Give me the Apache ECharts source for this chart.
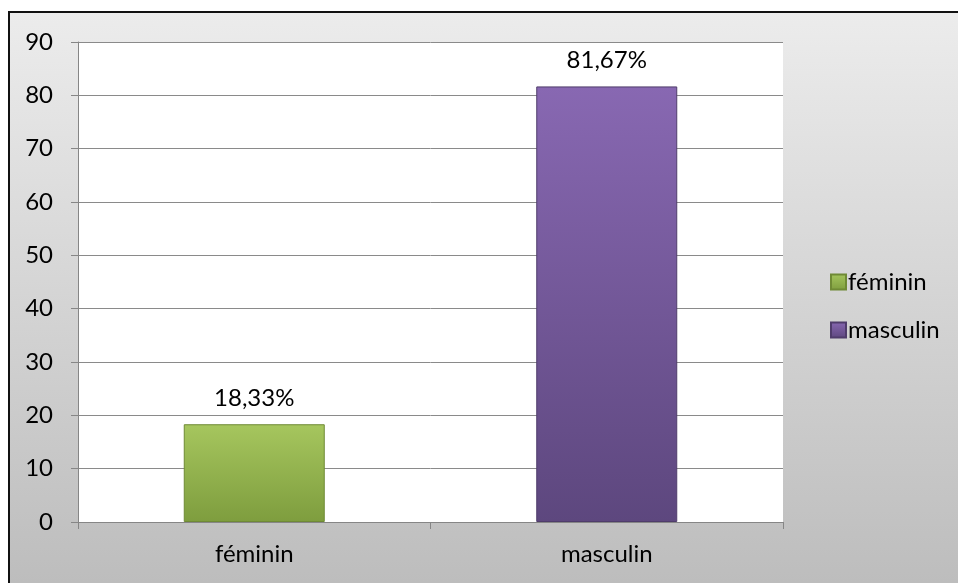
<!DOCTYPE html>
<html>
<head>
<meta charset="utf-8">
<script src="https://cdn.jsdelivr.net/npm/echarts@6/dist/echarts.min.js"></script>
<style>html,body{margin:0;padding:0;background:#fff;}#c{width:959px;height:583px;}</style>
</head>
<body>
<div id="c"></div>
<script>
const categories = ['féminin', 'masculin'];
const values = [18.33, 81.67];
const seriesNames = ['féminin', 'masculin'];
const yTicks = { min: 0, max: 90, interval: 10 };

const FONT = 'Lato';
const grad = (a, b) => new echarts.graphic.LinearGradient(0, 0, 0, 1, [
  { offset: 0, color: a }, { offset: 1, color: b }
]);
const fills = [grad('#a6c65e', '#7e9d3e'), grad('#8868b2', '#5d477e')];
const borders = ['#6f8a35', '#4f3c6b'];

const series = seriesNames.map((name, i) => ({
  name: name,
  type: 'bar',
  stack: 'all',
  barWidth: '40%',
  data: values.map((v, j) => (j === i ? v : '-')),
  itemStyle: { color: fills[i], borderColor: borders[i], borderWidth: 1 },
  label: {
    show: true,
    position: 'top',
    distance: 14,
    color: '#000',
    fontFamily: FONT,
    fontSize: 24,
    formatter: p => p.value.toFixed(2).replace('.', ',') + '%'
  }
}));

const chart = echarts.init(document.getElementById('c'), null, { renderer: 'canvas' });
chart.setOption({
  animation: false,
  graphic: [
    {
      type: 'rect', z: -10, silent: true,
      shape: { x: 9, y: 12, width: 949, height: 571 },
      style: { fill: new echarts.graphic.LinearGradient(0, 0, 0, 1, [
        { offset: 0, color: '#ececec' }, { offset: 1, color: '#bdbdbd' }]) }
    },
    {
      type: 'polyline', z: 100, silent: true,
      shape: { points: [[9, 583], [9, 12], [958, 12]] },
      style: { stroke: '#111', lineWidth: 2, fill: null }
    }
  ],
  grid: {
    left: 78, right: 176, top: 42, bottom: 61,
    show: true, backgroundColor: '#fff', borderWidth: 0
  },
  legend: {
    orient: 'vertical',
    left: 825, top: 265,
    itemWidth: 15, itemHeight: 15, itemGap: 24,
    icon: 'rect',
    textStyle: { fontFamily: FONT, fontSize: 24, color: '#000', lineHeight: 24, padding: [0, 0, 0, -3] },
    data: seriesNames
  },
  xAxis: {
    type: 'category',
    data: categories,
    axisLine: { lineStyle: { color: '#868686', width: 1 } },
    axisTick: { show: true, length: 7, lineStyle: { color: '#868686' } },
    axisLabel: { color: '#000', fontFamily: FONT, fontSize: 24, margin: 20 }
  },
  yAxis: {
    type: 'value',
    min: yTicks.min, max: yTicks.max, interval: yTicks.interval,
    axisLine: { show: true, lineStyle: { color: '#868686', width: 1 } },
    axisTick: { show: true, length: 7, lineStyle: { color: '#868686' } },
    splitLine: { show: true, lineStyle: { color: '#8a8a8a', width: 1 } },
    axisLabel: { color: '#000', fontFamily: FONT, fontSize: 24, margin: 25 }
  },
  series: series
});
</script>
</body>
</html>
